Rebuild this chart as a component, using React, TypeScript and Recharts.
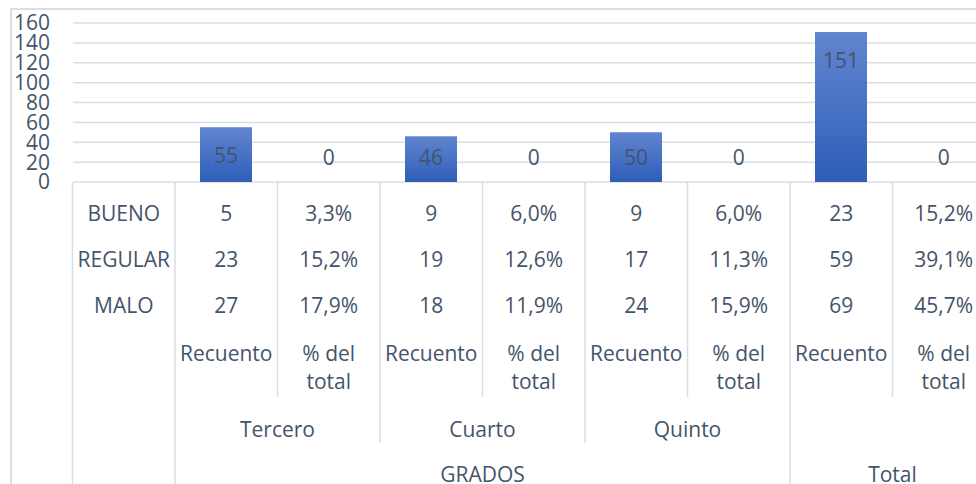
import { BarChart, Bar, XAxis, YAxis, CartesianGrid, LabelList } from 'recharts';

const categorias = [
  'Tercero Recuento', 'Tercero %', 'Cuarto Recuento', 'Cuarto %',
  'Quinto Recuento', 'Quinto %', 'Total Recuento', 'Total %',
];
const valores = [55, 0, 46, 0, 50, 0, 151, 0];
const medidas = ['Recuento', '% del total'];
const grupos = ['Tercero', 'Cuarto', 'Quinto'];
const grupoSuperior = 'GRADOS';
const grupoTotal = 'Total';
const filas = ['BUENO', 'REGULAR', 'MALO'];
const bueno = [5, 3.3, 9, 6.0, 9, 6.0, 23, 15.2];
const regular = [23, 15.2, 19, 12.6, 17, 11.3, 59, 39.1];
const malo = [27, 17.9, 18, 11.9, 24, 15.9, 69, 45.7];
const yTicks = [0, 20, 40, 60, 80, 100, 120, 140, 160];

const data = categorias.map((cat, i) => ({ cat, valor: valores[i] }));
const tabla = [bueno, regular, malo];

const FONT = '"Open Sans", "Noto Sans", sans-serif';
const TEXT = '#44546a';
const LINE = '#dadde2';
const FS = 21;

const fmt = (v: number, i: number) =>
  i % 2 === 1 ? v.toFixed(1).replace('.', ',') + '%' : String(v);

// tabla de datos bajo el eje: se dibuja columna a columna desde cada tick
function TablaTick(props: any) {
  const { x, y, payload, index } = props;
  const half = payload?.offset || 51.25;
  const t = (tx: number, ty: number, s: string | number, key: string) => (
    <text key={key} x={tx} y={ty} textAnchor="middle" dominantBaseline="central" fill={TEXT} fontSize={FS} fontFamily={FONT}>
      {s}
    </text>
  );
  const lineEnd = index === 5 ? 320 : index % 2 === 0 ? 215 : 261;
  const medida = medidas[index % 2].split(' del ');
  return (
    <g>
      {index === 0 && (
        <g>
          <line x1={x - 3 * half} x2={x - 3 * half} y1={y} y2={y + 320} stroke={LINE} strokeWidth={1.5} />
          <line x1={x - half} x2={x - half} y1={y} y2={y + 320} stroke={LINE} strokeWidth={1.5} />
          {filas.map((f, r) => t(x - 2 * half, y + 31 + r * 46, f, 'f' + r))}
          {t(x + 5 * half, y + 292, grupoSuperior, 'gs')}
        </g>
      )}
      {valores[index] === 0 && t(x, y - 25, valores[index], 'z')}
      <line x1={x + half} x2={x + half} y1={y} y2={y + lineEnd} stroke={LINE} strokeWidth={1.5} />
      {tabla.map((row, r) => t(x, y + 31 + r * 46, fmt(row[index], index), 'v' + r))}
      {medida.length > 1
        ? [t(x, y + 171, medida[0] + ' del', 'm0'), t(x, y + 199, medida[1], 'm1')]
        : t(x, y + 171, medida[0], 'm0')}
      {index % 2 === 0 && index < 6 && t(x + half, y + 247, grupos[index / 2], 'g')}
      {index === 6 && t(x + half, y + 292, grupoTotal, 'gt')}
    </g>
  );
}

function EtiquetaBarra(props: any) {
  const { x, y, width, height, value } = props;
  if (!value) return null;
  const base = y + height;
  const ly = Math.min(y + 28, base - 25);
  return (
    <text x={x + width / 2} y={ly} textAnchor="middle" dominantBaseline="central" fill={TEXT} fontSize={FS} fontFamily={FONT}>
      {value}
    </text>
  );
}

export default function App() {
  return (
    <div style={{ position: 'absolute', left: 0, top: 0, width: 976, height: 484, overflow: 'hidden', background: '#fff' }}>
      <div style={{ position: 'absolute', left: 10, top: 8, width: 2000, height: 2000, borderLeft: `2px solid ${LINE}`, borderTop: `2px solid ${LINE}` }} />
      <div style={{ position: 'absolute', left: 0, top: 0 }}>
        <BarChart width={1000} height={484} data={data} margin={{ top: 23, right: 5, left: 11, bottom: 0 }}>
          <defs>
            <linearGradient id="barGrad" x1="0" y1="0" x2="0" y2="1">
              <stop offset="0%" stopColor="#6185cf" />
              <stop offset="100%" stopColor="#2e5eb9" />
            </linearGradient>
          </defs>
          <CartesianGrid vertical={false} stroke={LINE} strokeWidth={1.5} />
          <YAxis
            width={62}
            domain={[0, 160]}
            ticks={yTicks}
            interval={0}
            axisLine={false}
            tickLine={false}
            tickMargin={17}
            tick={{ fill: TEXT, fontSize: FS, fontFamily: FONT }}
          />
          <XAxis
            dataKey="cat"
            height={302}
            padding={{ left: 102, right: 0 }}
            axisLine={false}
            tickLine={false}
            tickSize={0}
            tickMargin={0}
            interval={0}
            tick={<TablaTick />}
          />
          <Bar dataKey="valor" fill="url(#barGrad)" barSize={52} isAnimationActive={false}>
            <LabelList dataKey="valor" content={<EtiquetaBarra />} />
          </Bar>
        </BarChart>
      </div>
    </div>
  );
}
